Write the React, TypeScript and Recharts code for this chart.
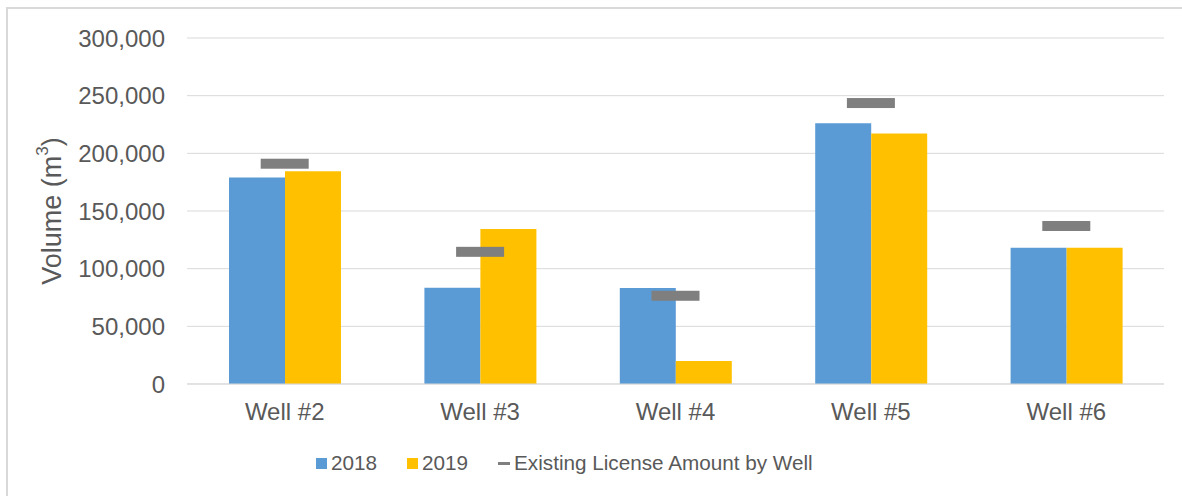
import React from "react";
import {
  ComposedChart,
  Bar,
  Line,
  XAxis,
  YAxis,
  CartesianGrid,
  Legend,
} from "recharts";

const wells = ["Well #2", "Well #3", "Well #4", "Well #5", "Well #6"];
const values2018 = [179000, 83500, 83200, 226000, 118200];
const values2019 = [184500, 134400, 19900, 217300, 118200];
const licenseAmounts = [191000, 114600, 76500, 243600, 137000];
const yTicks = [0, 50000, 100000, 150000, 200000, 250000, 300000];

const data = wells.map((w, i) => ({
  well: w,
  y2018: values2018[i],
  y2019: values2019[i],
  license: licenseAmounts[i],
}));

const FONT = "'Liberation Sans', Arial, sans-serif";
const TEXT = "#595959";
const BLUE = "#5B9BD5";
const GOLD = "#FFC000";
const GRAY = "#7F7F7F";

const W = 1174;
const H = 488;

const LicenseDash = (props: any) => {
  const { cx, cy } = props;
  if (cx == null || cy == null) return null;
  return <rect x={cx - 24} y={cy - 5} width={48} height={10} fill={GRAY} />;
};

const LegendContent = () => (
  <div
    style={{
      height: 40,
      display: "flex",
      alignItems: "center",
      paddingLeft: 308,
      fontFamily: FONT,
      fontSize: 20.7,
      color: TEXT,
      whiteSpace: "nowrap",
    }}
  >
    <span style={{ width: 11, height: 11, background: BLUE, display: "inline-block", marginRight: 4 }} />
    <span style={{ marginRight: 30 }}>2018</span>
    <span style={{ width: 11, height: 11, background: GOLD, display: "inline-block", marginRight: 4 }} />
    <span style={{ marginRight: 30 }}>2019</span>
    <span style={{ width: 12, height: 3, background: GRAY, display: "inline-block", marginRight: 4 }} />
    <span>Existing License Amount by Well</span>
  </div>
);

const YLabel = (props: any) => {
  const vb = props.viewBox || { x: 0, y: 0, width: 0, height: 0 };
  const x = vb.x + 44;
  const y = vb.y + vb.height / 2;
  return (
    <text
      x={x}
      y={y}
      transform={`rotate(-90, ${x}, ${y})`}
      textAnchor="middle"
      dominantBaseline="central"
      fill={TEXT}
      fontFamily={FONT}
      fontSize={27}
    >
      Volume (m
      <tspan fontSize={17} dy={-10}>3</tspan>
      <tspan dy={10}>)</tspan>
    </text>
  );
};

export default function App() {
  return (
    <div
      style={{
        position: "fixed",
        left: 0,
        top: 0,
        width: 1182,
        height: 496,
        overflow: "hidden",
        background: "#fff",
      }}
    >
      <div
        style={{
          position: "absolute",
          left: 6,
          top: 7,
          width: 1176,
          height: 489,
          borderTop: "2px solid #D9D9D9",
          borderLeft: "2px solid #D9D9D9",
          boxSizing: "border-box",
        }}
      />
      <div style={{ position: "absolute", left: 8, top: 8 }}>
        <ComposedChart
          width={W}
          height={H}
          data={data}
          margin={{ top: 30, right: 18, left: 0, bottom: 32 }}
          barGap={0}
        >
          <CartesianGrid vertical={false} stroke="#D9D9D9" strokeWidth={1} />
          <XAxis
            dataKey="well"
            height={40}
            axisLine={{ stroke: "#D9D9D9" }}
            tickLine={false}
            tickSize={0}
            tickMargin={19}
            tick={{ fill: TEXT, fontFamily: FONT, fontSize: 24 }}
            interval={0}
          />
          <YAxis
            width={179}
            domain={[0, 300000]}
            ticks={yTicks}
            axisLine={false}
            tickLine={false}
            tickSize={0}
            tickMargin={22}
            tick={{ fill: TEXT, fontFamily: FONT, fontSize: 24 }}
            tickFormatter={(v: number) => v.toLocaleString("en-US")}
            label={<YLabel />}
          />
          <Legend
            verticalAlign="bottom"
            content={<LegendContent />}
            wrapperStyle={{ top: 435, bottom: "auto", left: 0, width: W, height: 40 }}
          />
          <Bar dataKey="y2018" name="2018" fill={BLUE} barSize={56} isAnimationActive={false} />
          <Bar dataKey="y2019" name="2019" fill={GOLD} barSize={56} isAnimationActive={false} />
          <Line
            dataKey="license"
            name="Existing License Amount by Well"
            stroke="none"
            strokeWidth={0}
            dot={<LicenseDash />}
            activeDot={false}
            isAnimationActive={false}
            legendType="none"
          />
        </ComposedChart>
      </div>
    </div>
  );
}
